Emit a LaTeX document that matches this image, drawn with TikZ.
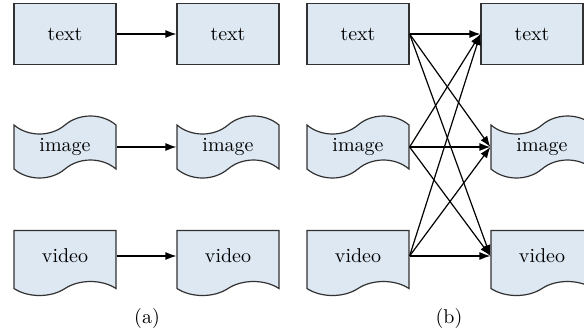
\documentclass[tikz,border=0pt]{standalone}
\usetikzlibrary{shapes.symbols,arrows.meta}

\definecolor{boxfill}{RGB}{221,232,243}
\definecolor{boxline}{RGB}{50,50,50}

\begin{document}
\begin{tikzpicture}[x=0.5pt,y=-0.5pt,
    box/.style={draw=boxline, fill=boxfill, line width=0.6pt,
      minimum width=51pt, minimum height=30.5pt, inner sep=0pt},
    wave/.style={box, shape=tape, tape bend height=9pt, minimum height=31pt},
    page/.style={box, shape=tape, tape bend top=none, tape bend height=7pt,
      minimum height=32.5pt},
    link/.style={-{Latex[length=5.5pt,width=4pt]}, line width=0.6pt}]
  \useasboundingbox (0,0) rectangle (584,334);

  % (a) each medium to itself
  \node[box]  (txtA) at (65,34)  {text};
  \node[wave] (imgA) at (65,147) {image};
  \node[page] (vidA) at (65,256) {video};
  \node[box]  (txtB) at (228,34)  {text};
  \node[wave] (imgB) at (228,147) {image};
  \node[page] (vidB) at (228,256) {video};
  \foreach \m in {txt,img,vid}
    \draw[link] (\m A.east) -- (\m B.west);
  \node (capA) at (147,318) {(a)};

  % (b) every medium to every medium
  \node[box]  (txtC) at (358,34)  {text};
  \node[wave] (imgC) at (358,147) {image};
  \node[page] (vidC) at (358,256) {video};
  \node[box]  (txtD) at (532,34)  {text};
  \node[wave] (imgD) at (542,147) {image};
  \node[page] (vidD) at (542,256) {video};
  \foreach \s in {txt,img,vid}
    \foreach \t in {txt,img,vid}
      \draw[link] (\s C.east) -- (\t D.west);
  \node (capB) at (449,318) {(b)};
\end{tikzpicture}
\end{document}
